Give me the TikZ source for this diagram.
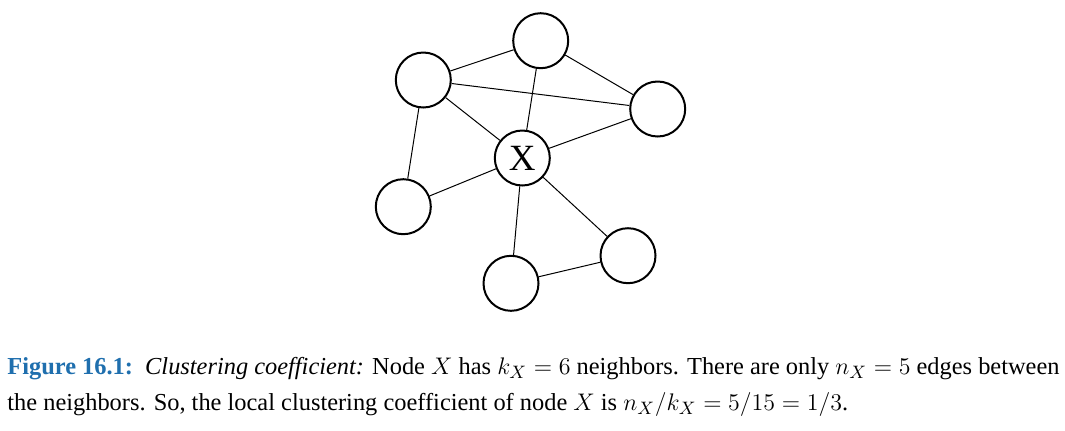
\documentclass[tikz,border=0pt]{standalone}
\usepackage{amsmath}
\usepackage{amssymb}
\usepackage{fontspec}
\setmainfont{Liberation Serif}
\usepackage{tikz}
\definecolor{capblue}{HTML}{1F6FAE}

\begin{document}
\begin{tikzpicture}[x=0.5pt,y=-0.5pt]
        \tikzset{vertex/.style = {shape=circle,draw,line width=1pt,minimum size=27.5pt,inner sep=0pt}}
        \tikzset{edge/.style = {line width=0.5pt}}
        \useasboundingbox (0,0) rectangle (1065,430);
        \node[vertex] (top) at  (540.7,40.7) {};
        \node[vertex] (ul) at  (423.3,80) {};
        \node[vertex] (rt) at  (657.7,109) {};
        \node[vertex,font=\fontsize{18.5}{20}\selectfont] (x) at  (522.3,158) {X};
        \node[vertex] (lf) at  (403.3,206.7) {};
        \node[vertex] (lr) at  (628,255.7) {};
        \node[vertex] (bot) at  (511,283.3) {};
        \draw[edge] (ul) -- (top);
        \draw[edge] (ul) -- (rt);
        \draw[edge] (ul) -- (x);
        \draw[edge] (ul) -- (lf);
        \draw[edge] (top) -- (x);
        \draw[edge] (top) -- (rt);
        \draw[edge] (rt) -- (x);
        \draw[edge] (lf) -- (x);
        \draw[edge] (x) -- (bot);
        \draw[edge] (x) -- (lr);
        \draw[edge] (bot) -- (lr);

     \node[anchor=base west,align=left,inner sep=0pt,font=\fontsize{12.2}{17}\selectfont] (cap) at (7,410)
        {{\color{capblue}\textbf{Figure 16.1:}}\ \ \textit{Clustering coefficient:} Node $X$ has $k_X = 6$ neighbors. There are only $n_X = 5$ edges between\\[0.8pt]
         the neighbors. So, the local clustering coefficient of node $X$ is $n_X/k_X = 5/15 = 1/3$.};
    \end{tikzpicture}
\end{document}
